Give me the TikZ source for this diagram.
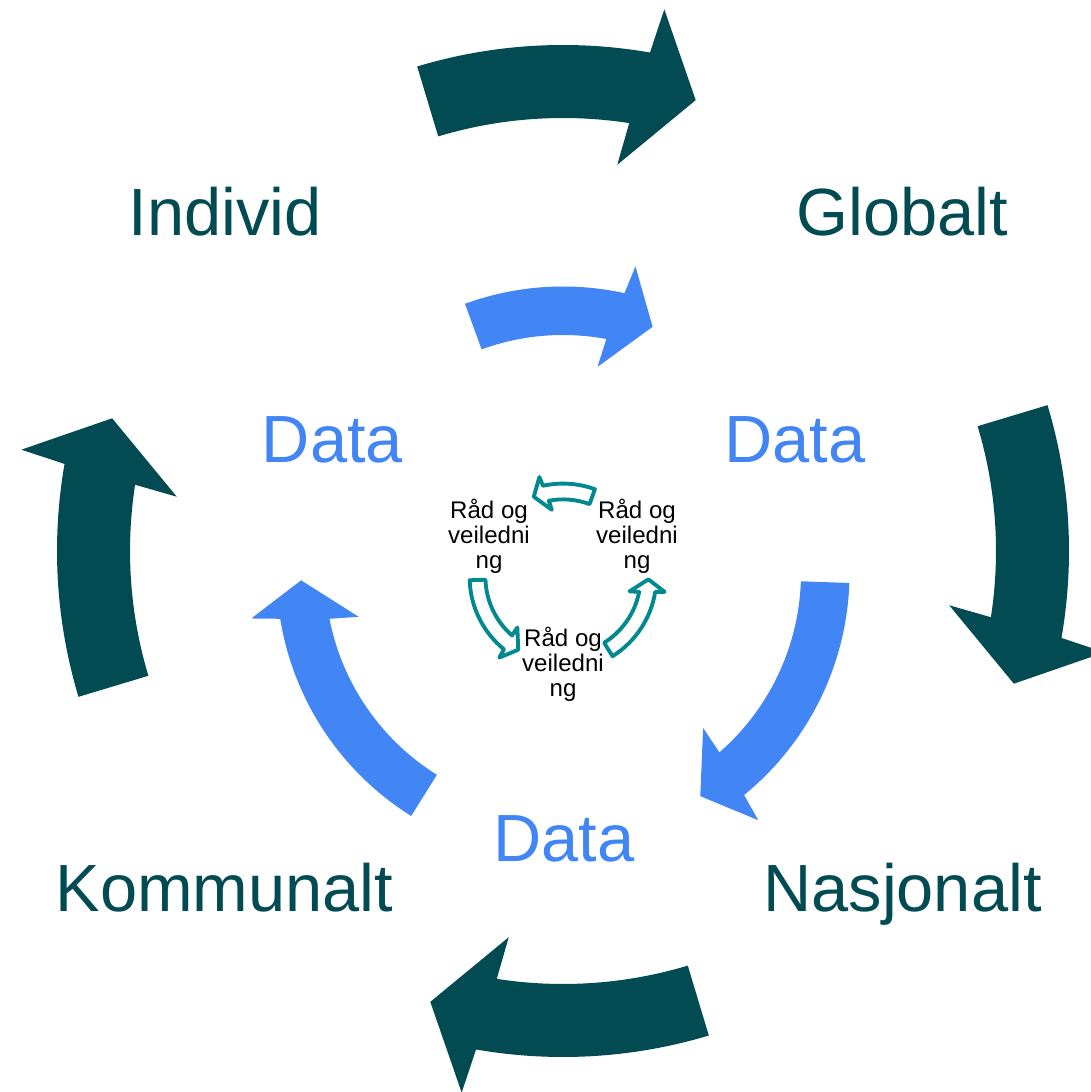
\documentclass[tikz,border=0pt]{standalone}
\usepackage{fontspec}
\setmainfont{Liberation Sans}
\definecolor{petrol}{RGB}{2,75,82}
\definecolor{datablue}{RGB}{66,133,244}
\definecolor{raadteal}{RGB}{0,137,143}
% three arrows of a cycle, top one short, the two others long
\newcommand{\ringarrows}[1]{%
	\path [#1] (110:238) arc [start angle=110,end angle=79.5,radius=238]
		-- (80.5:209) -- (70:262) -- (76.7:315) -- (77.6:286.5)
		arc [start angle=77.6,end angle=110,radius=286.5] -- cycle;
	\foreach \r in {0,240}
		\path [#1,rotate=\r] (-2:238) arc [start angle=-2,end angle=-48.9,radius=238]
			-- (-47.9:209) -- (-58.4:262) -- (-51.7:315) -- (-50.8:286.5)
			arc [start angle=-50.8,end angle=-2,radius=286.5] -- cycle;
}

\begin{document}
\begin{tikzpicture}[x=0.02cm,y=0.02cm,
	areal/.style={anchor=base,inner sep=0pt,text=petrol,font=\fontsize{38}{40}\selectfont},
	datalbl/.style={anchor=base,inner sep=0pt,text=datablue,font=\fontsize{38}{40}\selectfont},
	raad/.style={align=center,inner sep=0pt,font=\fontsize{13.7}{14.2}\selectfont}]
	\useasboundingbox (0,0) rectangle (1091,1092);
	\node [coordinate] (OC) at (563,541) {};
	\node [coordinate] (DC) at (563,519) {};
	\node [coordinate] (RC) at (563,515) {};
	% outer ring
	\foreach \r in {0,-90,-180,-270}
		\fill [petrol,shift={(OC)},rotate=\r] (106.75:433) arc [start angle=106.75,end angle=81.2,radius=433]
			-- (82:390) -- (73.6:470) -- (79.4:551) -- (80.1:506)
			arc [start angle=80.1,end angle=106.75,radius=506] -- cycle;
	% data ring
	\begin{scope}[shift={(DC)}]
		\ringarrows{fill=datablue}
	\end{scope}
	% small ring, turning the other way
	\begin{scope}[shift={(RC)},xscale=-0.326,yscale=0.326]
		\ringarrows{draw=raadteal,fill=white,line width=2.2pt,line join=round}
	\end{scope}
	\node [areal] (individ) at (225,856.3) {Individ};
	\node [areal] (globalt) at (902,856.3) {Globalt};
	\node [areal] (nasjonalt) at (902.5,180) {Nasjonalt};
	\node [areal] (kommunalt) at (224.5,180) {Kommunalt};
	\node [datalbl] (data1) at (332.5,629.7) {Data};
	\node [datalbl] (data2) at (795,629.7) {Data};
	\node [datalbl] (data3) at (564,230) {Data};
	\node [raad] (raad1) at (489,556) {Råd og\\veiledni\\ng};
	\node [raad] (raad2) at (637,556) {Råd og\\veiledni\\ng};
	\node [raad] (raad3) at (563,428) {Råd og\\veiledni\\ng};
\end{tikzpicture}
\end{document}
